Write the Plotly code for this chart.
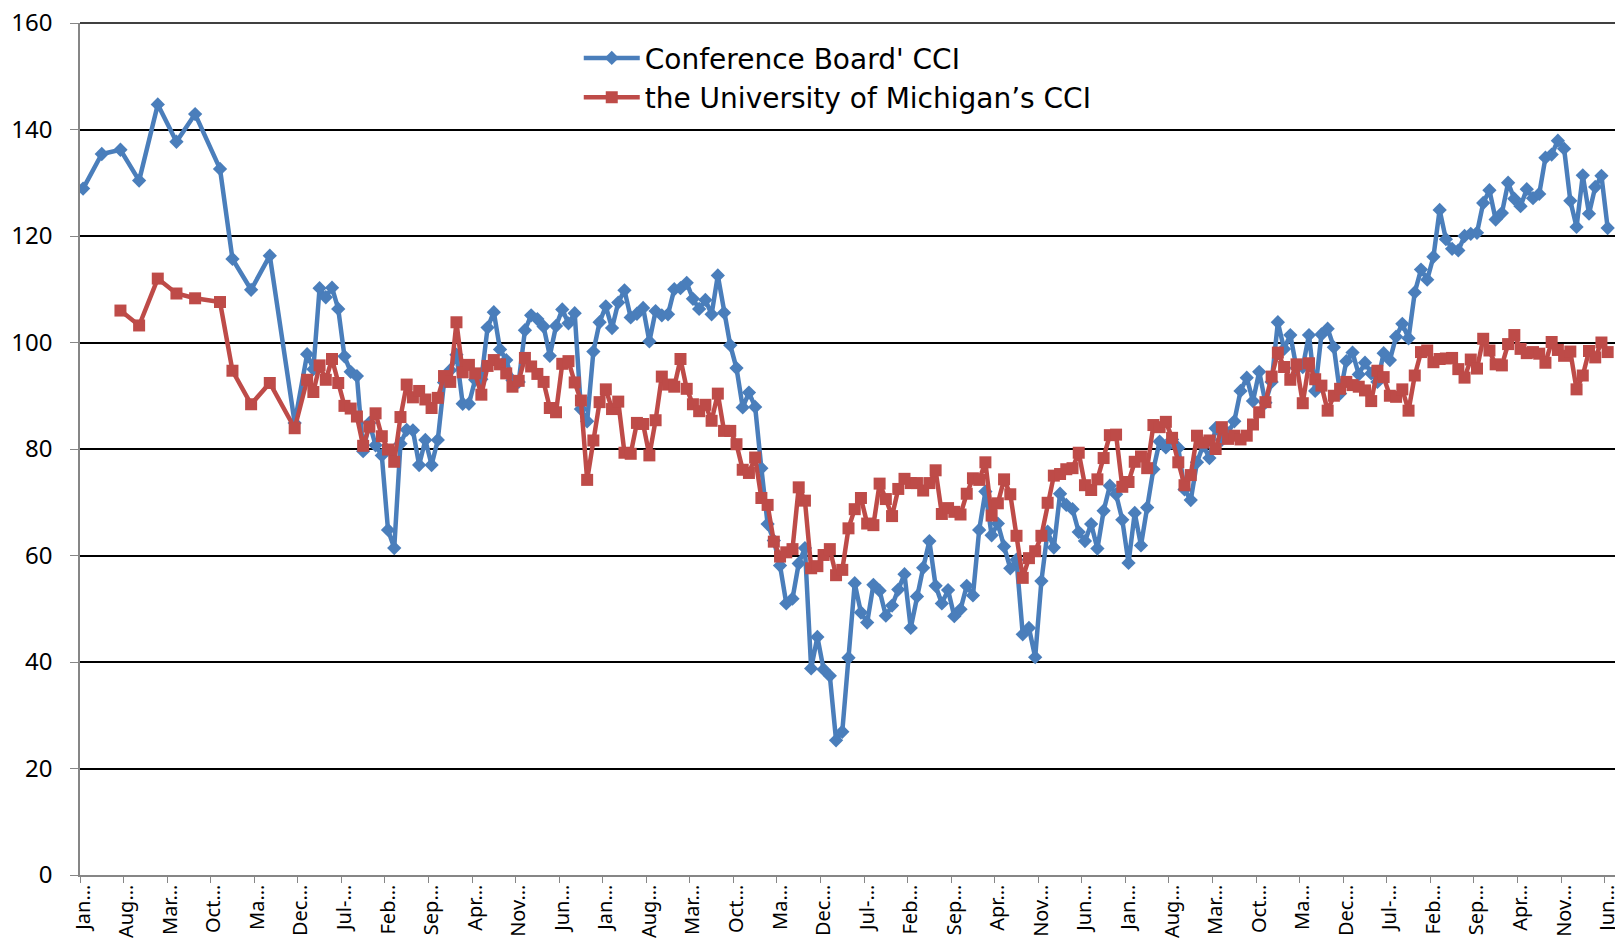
import plotly.graph_objects as go

# ---------------- data ----------------
AXIS_START_YEAR = 1999          # first category on the x axis is Jan of this year
N_CATEGORIES = 247              # monthly categories on the axis

tick_labels = ["Jan…", "Aug…", "Mar…", "Oct…", "Ma…", "Dec…", "Jul-…", "Feb…", "Sep…", "Apr…", "Nov…", "Jun…",
               "Jan…", "Aug…", "Mar…", "Oct…", "Ma…", "Dec…", "Jul-…", "Feb…", "Sep…", "Apr…", "Nov…", "Jun…",
               "Jan…", "Aug…", "Mar…", "Oct…", "Ma…", "Dec…", "Jul-…", "Feb…", "Sep…", "Apr…", "Nov…", "Jun…"]

cb_early_months = ["1999-01", "1999-04", "1999-07", "1999-10", "2000-01", "2000-04",
                   "2000-07", "2000-11", "2001-01", "2001-04", "2001-07", "2001-11"]
cb_early_values = [128.9, 135.4, 136.2, 130.4, 144.7, 137.7, 142.9, 132.6, 115.7, 109.9, 116.3, 84.9]

um_early_months = ["1999-07", "1999-10", "2000-01", "2000-04", "2000-07", "2000-11",
                   "2001-01", "2001-04", "2001-07", "2001-11"]
um_early_values = [106.0, 103.2, 112.0, 109.2, 108.3, 107.6, 94.7, 88.4, 92.4, 83.9]

monthly_start = "2002-01"

cb_monthly = [
    97.8, 95.0, 110.2, 108.5, 110.3, 106.3, 97.4, 94.5, 93.7, 79.6, 84.9, 80.7,        # 2002
    78.8, 64.8, 61.4, 81.0, 83.6, 83.5, 77.0, 81.7, 77.0, 81.7, 92.5, 94.8,            # 2003
    97.7, 88.5, 88.5, 93.0, 93.1, 102.8, 105.7, 98.7, 96.7, 92.9, 92.6, 102.3,         # 2004
    105.1, 104.4, 103.0, 97.5, 103.1, 106.2, 103.6, 105.5, 87.5, 85.2, 98.3, 103.8,    # 2005
    106.8, 102.7, 107.5, 109.8, 104.7, 105.4, 106.5, 100.2, 105.9, 105.1, 105.3, 110.0,# 2006
    110.2, 111.2, 108.2, 106.3, 108.0, 105.3, 112.6, 105.6, 99.5, 95.2, 87.8, 90.6,    # 2007
    87.9, 76.4, 65.9, 62.8, 58.1, 51.0, 51.9, 58.5, 61.4, 38.8, 44.7, 38.6,            # 2008
    37.4, 25.3, 26.9, 40.8, 54.8, 49.3, 47.4, 54.5, 53.4, 48.7, 50.6, 53.6,            # 2009
    56.5, 46.4, 52.3, 57.7, 62.7, 54.3, 51.0, 53.5, 48.6, 49.9, 54.3, 52.5,            # 2010
    64.8, 72.0, 63.8, 66.0, 61.7, 57.6, 59.2, 45.2, 46.4, 40.9, 55.2, 64.5,            # 2011
    61.5, 71.6, 69.5, 68.7, 64.4, 62.7, 65.9, 61.3, 68.4, 73.1, 71.5, 66.7,            # 2012
    58.6, 68.0, 61.9, 69.0, 76.2, 81.4, 80.3, 81.8, 80.2, 72.4, 70.4, 77.5,            # 2013
    80.7, 78.3, 83.9, 81.7, 83.0, 85.2, 90.9, 93.4, 89.0, 94.5, 88.7, 92.6,            # 2014
    103.8, 98.8, 101.4, 95.2, 95.4, 101.4, 90.9, 101.5, 102.6, 99.1, 90.4, 96.5,       # 2015
    98.1, 94.0, 96.2, 94.2, 92.6, 98.0, 96.7, 101.1, 103.5, 100.8, 109.4, 113.7,       # 2016
    111.8, 116.1, 124.9, 119.4, 117.6, 117.3, 120.0, 120.4, 120.6, 126.2, 128.6, 123.1,# 2017
    124.3, 130.0, 127.0, 125.6, 128.8, 127.1, 127.9, 134.7, 135.3, 137.9, 136.4, 126.6,# 2018
    121.7, 131.4, 124.2, 129.2, 131.3, 121.5,                                          # 2019
]

um_monthly = [
    93.0, 90.7, 95.7, 93.0, 96.9, 92.4, 88.1, 87.6, 86.1, 80.6, 84.2, 86.7,            # 2002
    82.4, 79.9, 77.6, 86.0, 92.1, 89.7, 90.9, 89.3, 87.7, 89.6, 93.7, 92.6,            # 2003
    103.8, 94.4, 95.8, 94.2, 90.2, 95.6, 96.7, 95.9, 94.2, 91.7, 92.8, 97.1,           # 2004
    95.5, 94.1, 92.6, 87.7, 86.9, 96.0, 96.5, 92.5, 89.1, 74.2, 81.6, 88.8,            # 2005
    91.2, 87.5, 88.9, 79.3, 79.1, 84.9, 84.7, 78.8, 85.4, 93.6, 92.1, 91.7,            # 2006
    96.9, 91.3, 88.4, 87.1, 88.3, 85.3, 90.4, 83.4, 83.4, 80.9, 76.1, 75.5,            # 2007
    78.4, 70.8, 69.5, 62.6, 59.8, 60.6, 61.2, 72.8, 70.3, 57.6, 58.0, 60.1,            # 2008
    61.2, 56.3, 57.3, 65.1, 68.7, 70.8, 66.0, 65.7, 73.5, 70.6, 67.4, 72.5,            # 2009
    74.4, 73.6, 73.6, 72.2, 73.6, 76.0, 67.8, 68.9, 68.2, 67.7, 71.6, 74.5,            # 2010
    74.2, 77.5, 67.5, 69.8, 74.3, 71.5, 63.7, 55.8, 59.5, 60.8, 63.7, 69.9,            # 2011
    75.0, 75.3, 76.2, 76.4, 79.3, 73.2, 72.3, 74.3, 78.3, 82.6, 82.7, 72.9,            # 2012
    73.8, 77.6, 78.6, 76.4, 84.5, 84.1, 85.1, 82.1, 77.5, 73.2, 75.1, 82.5,            # 2013
    81.2, 81.6, 80.0, 84.1, 81.9, 82.5, 81.8, 82.5, 84.6, 86.9, 88.8, 93.6,            # 2014
    98.1, 95.4, 93.0, 95.9, 88.6, 96.1, 93.1, 91.9, 87.2, 90.0, 91.3, 92.6,            # 2015
    92.0, 91.7, 91.0, 89.0, 94.7, 93.5, 90.0, 89.8, 91.2, 87.2, 93.8, 98.2,            # 2016
    98.5, 96.3, 96.9, 97.0, 97.1, 95.0, 93.4, 96.8, 95.1, 100.7, 98.5, 95.9,           # 2017
    95.7, 99.7, 101.4, 98.8, 98.0, 98.2, 97.9, 96.2, 100.1, 98.6, 97.5, 98.3,          # 2018
    91.2, 93.8, 98.4, 97.2, 100.0, 98.2,                                               # 2019
]

series_names = ["Conference Board' CCI", "the University of Michigan\u2019s CCI"]
series_colors = ["#4A7EBB", "#BE4B48"]


# ---------------- helpers ----------------
def month_index(label):
    """category position of a 'YYYY-MM' month on the monthly axis"""
    y, m = (int(p) for p in label.split("-"))
    return (y - AXIS_START_YEAR) * 12 + (m - 1)


def build_series(early_months, early_values, monthly_values):
    xs = [month_index(m) for m in early_months]
    ys = list(early_values)
    start = month_index(monthly_start)
    xs += [start + k for k in range(len(monthly_values))]
    ys += list(monthly_values)
    return xs, ys


cb_x, cb_y = build_series(cb_early_months, cb_early_values, cb_monthly)
um_x, um_y = build_series(um_early_months, um_early_values, um_monthly)

LEGEND_FONT = "DejaVu Sans"
TICK_FONT = "Noto Sans"
PAGE_OFFSET = 8   # default body margin of the html page

fig = go.Figure()
fig.add_trace(go.Scatter(
    x=cb_x, y=cb_y, name=series_names[0], mode="lines+markers",
    line=dict(color=series_colors[0], width=4.5),
    marker=dict(symbol="diamond", size=11, color=series_colors[0]),
))
fig.add_trace(go.Scatter(
    x=um_x, y=um_y, name=series_names[1], mode="lines+markers",
    line=dict(color=series_colors[1], width=4.5),
    marker=dict(symbol="square", size=12, color=series_colors[1]),
))

label_positions = list(range(0, 7 * len(tick_labels), 7))

fig.update_layout(
    width=1623 - PAGE_OFFSET, height=939 - PAGE_OFFSET,
    margin=dict(l=80 - PAGE_OFFSET, r=6, t=23 - PAGE_OFFSET, b=64, autoexpand=False),
    paper_bgcolor="white", plot_bgcolor="white",
    font=dict(family=LEGEND_FONT, color="black"),
    showlegend=True,
    legend=dict(
        x=0.3245, y=0.988, xanchor="left", yanchor="top",
        bgcolor="rgba(0,0,0,0)", font=dict(size=28, family=LEGEND_FONT, color="black"),
        tracegroupgap=0, itemwidth=56,
    ),
    xaxis=dict(
        range=[-0.5, N_CATEGORIES - 0.5], automargin=False,
        tickmode="array", tickvals=label_positions, ticktext=tick_labels,
        tickangle=-90, tickfont=dict(size=20, family=TICK_FONT, color="black"),
        ticks="", showgrid=False, zeroline=False,
        showline=True, linecolor="#868686", linewidth=1.5,
        minor=dict(tick0=-0.5, dtick=7, ticks="outside", ticklen=6,
                   tickcolor="#868686", tickwidth=1.2, showgrid=False),
        ticklabelstandoff=0, ticklabeloverflow="allow",
    ),
    yaxis=dict(
        range=[0, 160], tickmode="linear", tick0=0, dtick=20, automargin=False,
        tickfont=dict(size=24, family=TICK_FONT, color="black"),
        ticks="outside", ticklen=8, tickcolor="#868686", tickwidth=1.2,
        showgrid=True, gridcolor="black", gridwidth=1.5,
        zeroline=False, showline=True, linecolor="#868686", linewidth=1.5,
        ticklabelstandoff=13, ticklabeloverflow="allow",
    ),
    shapes=[
        # right border of the plot area
        dict(type="line", xref="paper", yref="paper", x0=1, x1=1, y0=0, y1=1,
             line=dict(color="black", width=1.5)),
        # top gridline (at the upper end of the value range)
        dict(type="line", xref="paper", yref="paper", x0=0, x1=1, y0=1, y1=1,
             line=dict(color="black", width=1.5)),
    ],
)

fig.write_html("out.html")
